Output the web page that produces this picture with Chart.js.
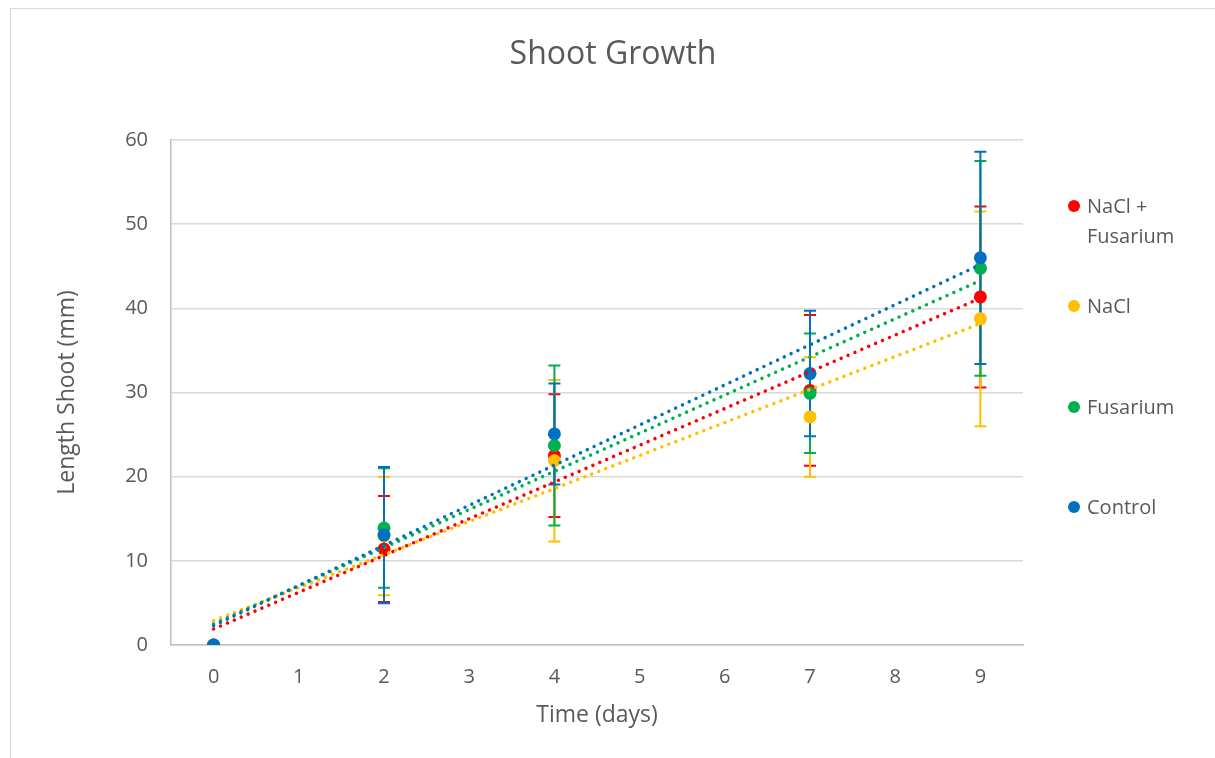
<!DOCTYPE html>
<html>
<head>
<meta charset="utf-8">
<script src="https://cdn.jsdelivr.net/npm/chart.js@4.4.1/dist/chart.umd.min.js"></script>
<style>
  html, body { margin: 0; padding: 0; background: #fff; }
  #wrap { position: relative; width: 1215px; height: 758px; overflow: hidden; }
  #frame { position: absolute; left: 10px; top: 8px; width: 1220px; height: 770px; border: 1px solid #d9d9d9; box-sizing: border-box; }
  #chart { position: absolute; left: 0; top: 0; }
  .leg { position: absolute; left: 1068px; font-family: "Open Sans", sans-serif; font-size: 20px; color: #595959; line-height: 30px; }
  .leg .dot { position: absolute; left: 0; top: 9px; width: 12px; height: 12px; border-radius: 50%; }
  .leg .txt { margin-left: 19px; }
</style>
</head>
<body>
<div id="wrap">
  <div id="frame"></div>
  <canvas id="chart" width="1215" height="758"></canvas>
  <div id="legend"></div>
</div>
<script>
const days = [0, 2, 4, 7, 9];
const xTicks = [0, 1, 2, 3, 4, 5, 6, 7, 8, 9];

const seriesNames = ['NaCl + Fusarium', 'NaCl', 'Fusarium', 'Control'];
const seriesColors = ['#FF0000', '#FFC000', '#00B050', '#0070C0'];

const naclFusarium = [0, 11.4, 22.5, 30.25, 41.35];
const nacl = [0, 12.95, 21.9, 27.1, 38.75];
const fusarium = [0, 13.9, 23.7, 29.9, 44.75];
const control = [0, 13.06, 25.08, 32.25, 46.0];

const errNaclFusarium = [0, 6.3, 7.3, 8.95, 10.75];
const errNacl = [0, 7.05, 9.6, 7.1, 12.75];
const errFusarium = [0, 7.1, 9.5, 7.1, 12.75];
const errControl = [0, 8.1, 6.0, 7.45, 12.6];

// linear trendline ends (x = 0 and x = 9)
const trendStart = [1.9, 2.9, 2.5, 2.3];
const trendEnd = [41.2, 38.2, 43.3, 45.2];

const values = [naclFusarium, nacl, fusarium, control];
const errors = [errNaclFusarium, errNacl, errFusarium, errControl];

const fontFam = '"Open Sans", sans-serif';
const textColor = '#595959';

const datasets = [];
values.forEach((vals, i) => {
    datasets.push({
        label: seriesNames[i],
        data: days.map((d, j) => ({ x: d, y: vals[j] })),
        backgroundColor: seriesColors[i],
        borderColor: seriesColors[i],
        pointRadius: 6.5,
        pointHoverRadius: 6.5,
        pointBorderWidth: 0,
        showLine: false,
        order: 10 - i
    });
});
values.forEach((vals, i) => {
    datasets.push({
        label: seriesNames[i] + ' trend',
        data: [{ x: days[0], y: trendStart[i] }, { x: days[days.length - 1], y: trendEnd[i] }],
        borderColor: seriesColors[i],
        borderWidth: 3.5,
        borderDash: [0.01, 7.5],
        borderCapStyle: 'round',
        pointRadius: 0,
        showLine: true,
        fill: false,
        order: 4 - i
    });
});

const errorBars = {
    id: 'errorBars',
    beforeDatasetsDraw(chart) {
        const ctx = chart.ctx;
        const xs = chart.scales.x, ys = chart.scales.y;
        ctx.save();
        ctx.lineWidth = 2;
        values.forEach((vals, i) => {
            ctx.strokeStyle = seriesColors[i];
            vals.forEach((v, j) => {
                const e = errors[i][j];
                if (!e) return;
                const px = xs.getPixelForValue(days[j]);
                const top = ys.getPixelForValue(v + e);
                const bot = ys.getPixelForValue(v - e);
                ctx.beginPath();
                ctx.moveTo(px, top); ctx.lineTo(px, bot);
                ctx.moveTo(px - 6, top); ctx.lineTo(px + 6, top);
                ctx.moveTo(px - 6, bot); ctx.lineTo(px + 6, bot);
                ctx.stroke();
            });
        });
        ctx.restore();
    },
    afterDraw(chart) {
        // title centred over whole chart box, not just plot area
        const ctx = chart.ctx;
        ctx.save();
        ctx.fillStyle = textColor;
        ctx.font = '32px ' + fontFam;
        ctx.textAlign = 'center';
        ctx.textBaseline = 'alphabetic';
        ctx.fillText('Shoot Growth', 613, 64);
        ctx.restore();
    }
};

new Chart(document.getElementById('chart'), {
    type: 'scatter',
    data: { datasets: datasets },
    plugins: [errorBars],
    options: {
        responsive: false,
        animation: false,
        events: [],
        layout: { padding: { left: 0, right: 192, top: 140, bottom: 0 } },
        plugins: {
            legend: { display: false },
            tooltip: { enabled: false },
            title: { display: false }
        },
        scales: {
            x: {
                type: 'linear',
                min: -0.5,
                max: 9.5,
                afterBuildTicks: s => { s.ticks = xTicks.map(v => ({ value: v })); },
                afterFit: s => { s.height = 113; },
                grid: { display: false, drawTicks: false },
                border: { display: true, color: '#bfbfbf', width: 1.5 },
                ticks: { color: textColor, font: { family: fontFam, size: 20 }, padding: 20 },
                title: {
                    display: true, text: 'Time (days)', color: textColor,
                    font: { family: fontFam, size: 23 }, padding: { top: 0, bottom: 29 }
                }
            },
            y: {
                min: 0,
                max: 60,
                afterFit: s => { s.width = 171; },
                ticks: { stepSize: 10, color: textColor, font: { family: fontFam, size: 20 }, padding: 23 },
                grid: { color: '#d9d9d9', lineWidth: 1.5, drawTicks: false },
                border: { display: true, color: '#bfbfbf', width: 1.5 },
                title: {
                    display: true, text: 'Length Shoot (mm)', color: textColor,
                    font: { family: fontFam, size: 23 }, padding: { top: 54, bottom: 0 }
                }
            }
        }
    }
});

// legend on the right
const legendTop = [191, 291, 392, 492];
const legendText = [['NaCl +', 'Fusarium'], ['NaCl'], ['Fusarium'], ['Control']];
const legendBox = document.getElementById('legend');
seriesNames.forEach((n, i) => {
    const d = document.createElement('div');
    d.className = 'leg';
    d.style.top = legendTop[i] + 'px';
    d.innerHTML = '<span class="dot" style="background:' + seriesColors[i] + '"></span><div class="txt">' + legendText[i].join('<br>') + '</div>';
    legendBox.appendChild(d);
});
</script>
</body>
</html>
